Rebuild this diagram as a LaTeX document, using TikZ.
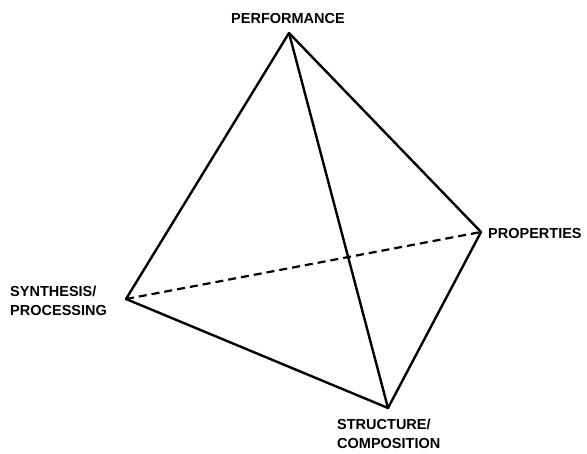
\documentclass[tikz,border=0pt]{standalone}
\usepackage{fontspec}
\setmainfont{Liberation Sans}
\usetikzlibrary{positioning}

\begin{document}
\begin{tikzpicture}[
  x=1pt, y=-1pt,
  edge/.style={line width=2.4pt, line join=round, line cap=round},
  hidden/.style={edge, dash pattern=on 8pt off 5pt, line width=2.2pt, line cap=butt},
  vlbl/.style={font=\fontsize{14.5}{19}\selectfont\bfseries, inner sep=0pt, align=left}
]
\useasboundingbox (0,0) rectangle (587,454);

%% ── vertices ────────────────────────────────────────────────────────────
\coordinate (perf)   at (289, 33);
\coordinate (prop)   at (481, 232);
\coordinate (synth)  at (126, 299);
\coordinate (struct) at (388, 408);

%% ── labels ──────────────────────────────────────────────────────────────
\node[vlbl]              (perflbl)   at (288, 19)  {PERFORMANCE};
\node[vlbl, anchor=west] (proplbl)   at (488, 234) {PROPERTIES};
\node[vlbl, anchor=west] (synthlbl)  at (10, 301)  {SYNTHESIS/\\PROCESSING};
\node[vlbl, anchor=west] (structlbl) at (337, 434) {STRUCTURE/\\COMPOSITION};

%% ── edges ───────────────────────────────────────────────────────────────
\draw[edge] (perf) -- (synth);
\draw[edge] (perf) -- (prop);
\draw[edge] (perf) -- (struct);
\draw[edge] (synth) -- (struct);
\draw[edge] (prop) -- (struct);
\draw[hidden] (synth) -- (prop);

\end{tikzpicture}
\end{document}
